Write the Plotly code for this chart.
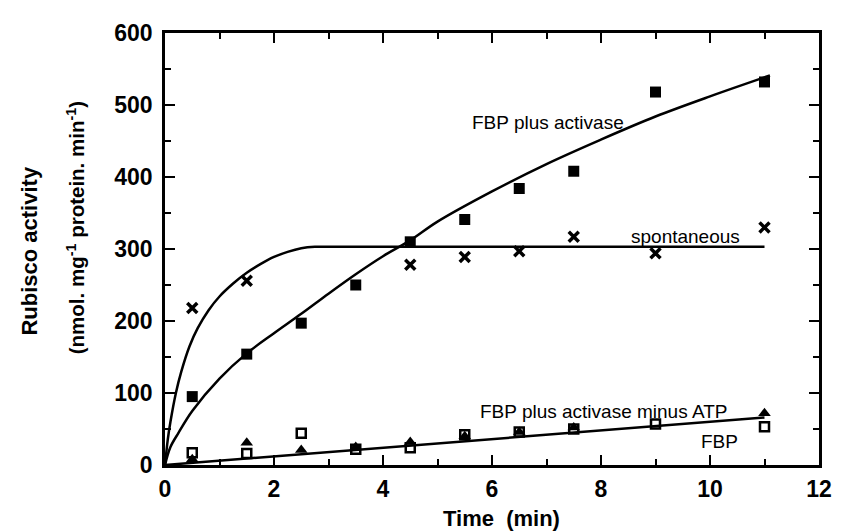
import plotly.graph_objects as go

# ---- data ----
t_act = [0.5, 1.5, 2.5, 3.5, 4.5, 5.5, 6.5, 7.5, 9.0, 11.0]
v_act = [95, 154, 197, 250, 310, 341, 384, 408, 518, 532]

t_spon = [0.5, 1.5, 4.5, 5.5, 6.5, 7.5, 9.0, 11.0]
v_spon = [218, 256, 278, 289, 297, 317, 294, 330]

t_noatp = [0.5, 1.5, 2.5, 3.5, 4.5, 5.5, 6.5, 7.5, 11.0]
v_noatp = [8, 31, 21, 25, 32, 40, 46, 52, 72]

t_fbp = [0.5, 1.5, 2.5, 3.5, 4.5, 5.5, 6.5, 7.5, 9.0, 11.0]
v_fbp = [17, 16, 44, 22, 24, 42, 46, 50, 57, 53]

# fitted curves as drawn in the figure
fit_act_t = [0, 0.1, 0.25, 0.5, 1, 1.5, 2, 2.5, 3, 3.5, 4, 4.5, 5, 6, 7, 8, 9, 10, 11.1]
fit_act_v = [0, 25, 45, 75, 120, 155, 183, 210, 238, 265, 290, 312, 338, 380, 418, 452, 484, 512, 541]

fit_spon_t = [0, 0.05, 0.1, 0.2, 0.3, 0.45, 0.6, 0.8, 1.0, 1.25, 1.5, 1.75, 2.0, 2.25, 2.5, 2.75, 3.0, 11]
fit_spon_v = [0, 35, 60, 100, 130, 165, 190, 215, 234, 252, 267, 279, 289, 296, 301, 303, 303, 303]

fit_low_t = [0, 11]
fit_low_v = [0, 66]

x_ticks = [0, 2, 4, 6, 8, 10, 12]
y_ticks = [0, 100, 200, 300, 400, 500, 600]

FONT = "Liberation Sans"
BLACK = "black"

fig = go.Figure()

line_style = dict(color=BLACK, width=2.5)
fig.add_trace(go.Scatter(x=fit_act_t, y=fit_act_v, mode="lines",
                         line=dict(**line_style, shape="spline", smoothing=1.0)))
fig.add_trace(go.Scatter(x=fit_spon_t, y=fit_spon_v, mode="lines",
                         line=dict(**line_style, shape="spline", smoothing=0.6)))
fig.add_trace(go.Scatter(x=fit_low_t, y=fit_low_v, mode="lines", line=line_style))

fig.add_trace(go.Scatter(x=t_act, y=v_act, mode="markers",
                         marker=dict(symbol="square", size=11, color=BLACK)))
fig.add_trace(go.Scatter(x=t_spon, y=v_spon, mode="markers",
                         marker=dict(symbol="x-thin-open", size=10, color=BLACK,
                                     line=dict(color=BLACK, width=3.5))))
fig.add_trace(go.Scatter(x=t_noatp, y=v_noatp, mode="markers",
                         marker=dict(symbol="triangle-up", size=11, color=BLACK)))
fig.add_trace(go.Scatter(x=t_fbp, y=v_fbp, mode="markers",
                         marker=dict(symbol="square-open", size=9, color=BLACK,
                                     line=dict(color=BLACK, width=2.5))))

ann_font = dict(family=FONT, size=19, color=BLACK)
labels = [
    ("FBP plus activase", 7.03, 476),
    ("spontaneous", 9.55, 318),
    ("FBP plus activase minus ATP", 8.04, 75),
    ("FBP", 10.18, 32),
]
for txt, xx, yy in labels:
    fig.add_annotation(x=xx, y=yy, xref="x", yref="y", text=txt, showarrow=False,
                       font=ann_font, xanchor="center", yanchor="middle")

# axis titles
fig.add_annotation(x=0, y=0.494, xref="paper", yref="paper", xshift=-135,
                   text="<b>Rubisco activity</b>", textangle=-90, showarrow=False,
                   font=dict(family=FONT, size=22, color=BLACK),
                   xanchor="center", yanchor="middle")
fig.add_annotation(x=0, y=0.548, xref="paper", yref="paper", xshift=-89,
                   text="<b>(nmol. mg<sup>-1</sup> protein. min<sup>-1</sup>)</b>",
                   textangle=-90, showarrow=False,
                   font=dict(family=FONT, size=20.5, color=BLACK),
                   xanchor="center", yanchor="middle")
fig.add_annotation(x=0.514, y=-0.124, xref="paper", yref="paper",
                   text="<b>Time  (min)</b>", showarrow=False,
                   font=dict(family=FONT, size=22, color=BLACK),
                   xanchor="center", yanchor="middle")

axis_common = dict(
    showline=True, linecolor=BLACK, linewidth=2.5, mirror="allticks",
    ticks="inside", ticklen=10, tickwidth=2, tickcolor=BLACK,
    showgrid=False, zeroline=False,
    tickfont=dict(family=FONT, size=23, color=BLACK, weight="bold"),
)
fig.update_xaxes(range=[0, 12], tickvals=x_ticks, ticktext=[str(v) for v in x_ticks],
                 minor=dict(dtick=1, ticks="inside", ticklen=6, tickwidth=2, tickcolor=BLACK),
                 ticklabelstandoff=2, **axis_common)
fig.update_yaxes(range=[0, 600], tickvals=y_ticks, ticktext=[str(v) for v in y_ticks],
                 minor=dict(dtick=50, ticks="inside", ticklen=6, tickwidth=2, tickcolor=BLACK),
                 ticklabelstandoff=5, **axis_common)

# page body has an 8px margin: size and margins compensate for it
fig.update_layout(
    width=836, height=524,
    margin=dict(l=157, r=15, t=15, b=67),
    paper_bgcolor="white", plot_bgcolor="white",
    showlegend=False,
)

fig.write_html("out.html")
